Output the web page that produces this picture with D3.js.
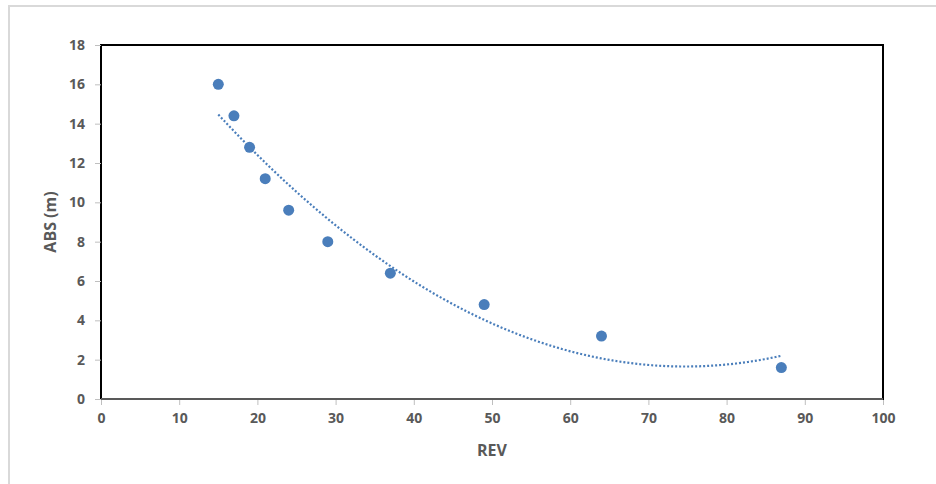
<!DOCTYPE html>
<html>
<head>
<meta charset="utf-8">
<script src="https://cdn.jsdelivr.net/npm/d3@7"></script>
<style>
  body { margin: 0; background: #fff; }
  text { font-family: "Open Sans", sans-serif; font-weight: bold; fill: #595959; }
</style>
</head>
<body>
<div id="chart"></div>
<script>
// data
var rev = [15, 17, 19, 21, 24, 29, 37, 49, 64, 87];
var abs = [16, 14.4, 12.8, 11.2, 9.6, 8, 6.4, 4.8, 3.2, 1.6];
var xTicks = [0, 10, 20, 30, 40, 50, 60, 70, 80, 90, 100];
var yTicks = [0, 2, 4, 6, 8, 10, 12, 14, 16, 18];

var width = 936, height = 484;
var margin = {left: 101, top: 45, right: 53, bottom: 85};

var svg = d3.select('#chart').append('svg')
  .attr('width', width)
  .attr('height', height);

// outer chart border
svg.append('rect')
  .attr('x', 9).attr('y', 6)
  .attr('width', width + 10).attr('height', height + 10)
  .attr('fill', 'none')
  .attr('stroke', '#d9d9d9')
  .attr('stroke-width', 2);

var x = d3.scaleLinear().domain([0, 100]).range([margin.left, width - margin.right]);
var y = d3.scaleLinear().domain([0, 18]).range([height - margin.bottom, margin.top]);

// plot area frame
svg.append('rect')
  .attr('x', x(0)).attr('y', y(18))
  .attr('width', x(100) - x(0)).attr('height', y(0) - y(18))
  .attr('fill', 'none')
  .attr('stroke', '#000')
  .attr('stroke-width', 2);

var xAxis = svg.append('g')
  .attr('transform', 'translate(0,' + y(0) + ')')
  .call(d3.axisBottom(x).tickValues(xTicks).tickSize(6).tickPadding(8));
var yAxis = svg.append('g')
  .attr('transform', 'translate(' + x(0) + ',0)')
  .call(d3.axisLeft(y).tickValues(yTicks).tickSize(6).tickPadding(10));

[xAxis, yAxis].forEach(function(g){
  g.selectAll('.tick line').attr('stroke', '#bfbfbf');
  g.selectAll('.tick text').style('font-size', '14px').attr('fill', '#595959');
  g.select('.domain').remove();
});
xAxis.selectAll('.tick line').attr('y1', 1);

// bottom axis line is gray
svg.append('line')
  .attr('x1', x(0)).attr('x2', x(100))
  .attr('y1', y(0)).attr('y2', y(0))
  .attr('stroke', '#595959')
  .attr('stroke-width', 2);

// quadratic least squares trendline, as the spreadsheet does it
var sums = [0, 0, 0, 0, 0], sxy = [0, 0, 0];
rev.forEach(function(v, i){
  for (var k = 0; k < 5; k++) sums[k] += Math.pow(v, k);
  for (var j = 0; j < 3; j++) sxy[j] += Math.pow(v, j) * abs[i];
});
var M = [
  [sums[0], sums[1], sums[2], sxy[0]],
  [sums[1], sums[2], sums[3], sxy[1]],
  [sums[2], sums[3], sums[4], sxy[2]]
];
for (var c = 0; c < 3; c++){
  for (var r = c + 1; r < 3; r++){
    var f = M[r][c] / M[c][c];
    for (var k = c; k < 4; k++) M[r][k] -= f * M[c][k];
  }
}
var coef = [0, 0, 0];
for (var r = 2; r >= 0; r--){
  var s = M[r][3];
  for (var k = r + 1; k < 3; k++) s -= M[r][k] * coef[k];
  coef[r] = s / M[r][r];
}
var xmin = d3.min(rev), xmax = d3.max(rev);
var trend = d3.range(0, 101).map(function(i){
  var xv = xmin + (xmax - xmin) * i / 100;
  return [xv, coef[0] + coef[1] * xv + coef[2] * xv * xv];
});

svg.append('path')
  .datum(trend)
  .attr('d', d3.line().x(function(d){ return x(d[0]); }).y(function(d){ return y(d[1]); }))
  .attr('fill', 'none')
  .attr('stroke', '#4a7ebb')
  .attr('stroke-width', 2.2)
  .attr('stroke-dasharray', '2,2');

svg.selectAll('circle.pt')
  .data(rev)
  .enter()
  .append('circle')
  .attr('class', 'pt')
  .attr('cx', function(d){ return x(d); })
  .attr('cy', function(d, i){ return y(abs[i]); })
  .attr('r', 5.5)
  .attr('fill', '#4a7ebb');

// axis titles
svg.append('text')
  .attr('x', (x(0) + x(100)) / 2)
  .attr('y', 456)
  .attr('text-anchor', 'middle')
  .style('font-size', '16px')
  .text('REV');

svg.append('text')
  .attr('transform', 'translate(56,' + (y(9)) + ') rotate(-90)')
  .attr('text-anchor', 'middle')
  .style('font-size', '16px')
  .text('ABS (m)');
</script>
</body>
</html>
